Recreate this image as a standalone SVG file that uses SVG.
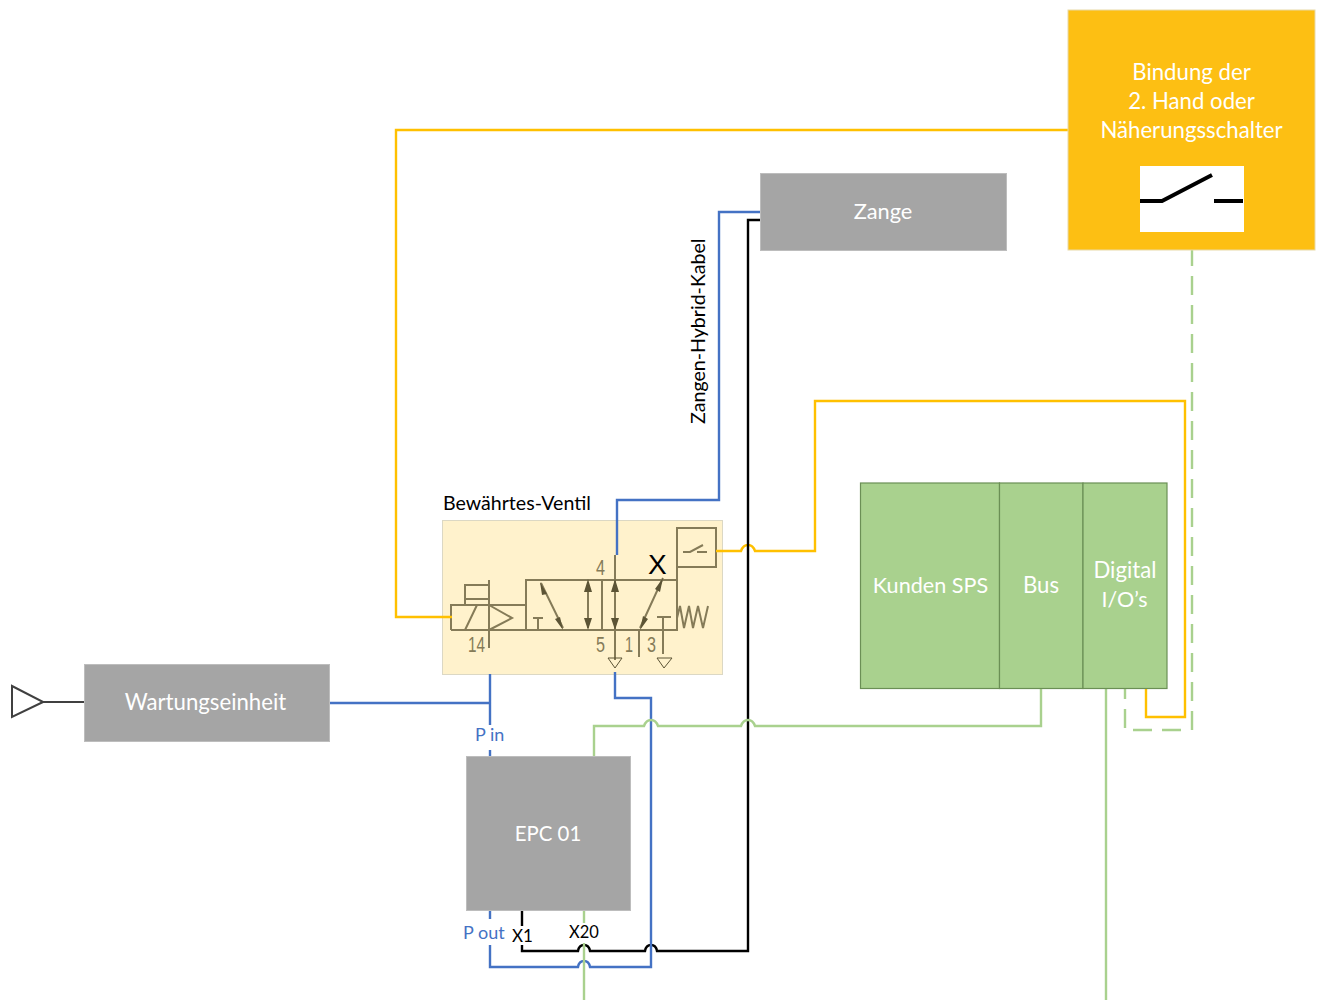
<svg xmlns="http://www.w3.org/2000/svg" width="1318" height="1000" viewBox="0 0 1318 1000">
<style>
text{font-family:Lato,"Open Sans","Liberation Sans",sans-serif}
.w{fill:#fff;font-size:22.200px;text-anchor:middle}
.k{fill:#000;font-size:19.600px}
.b{fill:#4472c4;font-size:18px}
.gray{fill:#a5a5a5;stroke:#bdbdbd;stroke-width:1}
.green{fill:#a9d18e;stroke:#6b8f55;stroke-width:1.2}
.c{fill:none;stroke-width:2.400;stroke-linejoin:miter}
.cb{stroke:#4472c4}.cy{stroke:#ffc000}.cg{stroke:#a9d18e}.ck{stroke:#000}
.v{fill:none;stroke:#857b58;stroke-width:2}
.vt{fill:#857b58;font-size:22px;font-family:"Liberation Sans",sans-serif}
.head{fill:#5c5435;stroke:none}
</style>
<g id="valve">
<rect x="442.500" y="520.500" width="280" height="154" fill="#fff2cc" stroke="#dcd8c4"/>
<text x="443" y="510" class="k">Bewährtes-Ventil</text>
<rect class="v" x="526" y="580" width="151" height="50"/>
<path class="v" d="M451 630V605H526M451 630H526M489 580V648M465 630L477 605M489 605L512 618L489 630M489 585H465V605M465 599H489M602 580V630M615 555V660M639 630V657M663 617V654M657 617H671M533 618H543M538 618V630M677 618L680 606L684 628L689 606L693 628L698 606L703 628L708 606M677 567V580"/>
<path class="v" stroke-width="1.500" d="M541 583L563 628M588 582V628M663 578L640 628"/>
<path class="head" d="M540 582l7 12-5 1zM563 630l-8-11 5-2zM588 579l4 13h-8zM588 630l-4-12h8zM615 579l4 13h-8zM615 630l-4-12h8zM663 578l-3 14-5-3zM640 630l3-14 5 3z"/>
<path fill="none" stroke="#5c5435" stroke-width="1" d="M608 658H622L615 668ZM657 658H672L664 668Z"/>
<rect class="v" x="677" y="528" width="39" height="39"/>
<path class="v" d="M683 552H690L703 545M697 552H707"/>
<text class="vt" x="596" y="575" textLength="9" lengthAdjust="spacingAndGlyphs">4</text>
<text class="vt" x="596" y="652" textLength="9" lengthAdjust="spacingAndGlyphs">5</text>
<text class="vt" x="625" y="652" textLength="8" lengthAdjust="spacingAndGlyphs">1</text>
<text class="vt" x="647" y="652" textLength="9" lengthAdjust="spacingAndGlyphs">3</text>
<text class="vt" x="468" y="652" textLength="17" lengthAdjust="spacingAndGlyphs">14</text>
<text x="648" y="574" font-size="28" fill="#000" style="font-family:'Liberation Sans',sans-serif">X</text>
</g>
<g id="connectors">
<path class="c cy" d="M1068 130H396V617H452"/>
<path class="c cy" d="M716 551H741Q743 545 748 545Q753 545 755 551H815V401H1185V717H1146V689"/>
<path class="c cb" d="M617 555V500H719V212H760"/>
<path class="c ck" d="M760 220H748V951H657Q656 945 651 945Q646 945 645 951H590Q589 945 584 945Q579 945 578 951H522V911"/>
<path class="c cb" d="M330 703H490V674M490 674V757"/>
<path class="c cb" d="M615 672V698H651V967H590Q589 961 584 961Q579 961 578 967H490V911"/>
<path class="c cg" d="M594 757V726H644Q646 720 651 720Q656 720 658 726H741Q743 720 748 720Q753 720 755 726H1041V689"/>
<path class="c cg" d="M584 911V1000"/>
<path class="c cg" d="M1106 689V1000"/>
<path class="c cg" stroke-dasharray="19 10" stroke-dashoffset="3" d="M1192 250V730"/>
<path class="c cg" stroke-dasharray="19 10" d="M1181 730H1133"/>
<path class="c cg" stroke-dasharray="19 10" d="M1125 728V689"/>
<path fill="none" stroke="#404040" stroke-width="2" d="M85 702H43L12 686V717L43 702"/>
</g>
<g id="bindung">
<rect x="1068" y="10" width="247" height="240" fill="#fdbf13" stroke="#e8d9a8"/>
<text class="w" x="1191.500" y="80">Bindung der</text>
<text class="w" x="1191.500" y="109">2. Hand oder</text>
<text class="w" x="1191.500" y="138">Näherungsschalter</text>
<rect x="1140" y="166" width="104" height="66" fill="#fff"/>
<path fill="none" stroke="#000" stroke-width="4" d="M1140 201H1162L1212 175M1214 201H1243"/>
</g>
<g id="zange">
<rect class="gray" x="760.500" y="173.500" width="246" height="77"/>
<text class="w" x="883" y="219" style="font-size:21.800px">Zange</text>
</g>
<g id="hybrid-label">
<text class="k" transform="translate(705 424) rotate(-90)">Zangen-Hybrid-Kabel</text>
</g>
<g id="sps">
<rect class="green" x="860.500" y="483" width="139" height="205.500"/>
<text class="w" x="930.500" y="593" style="font-size:21.600px">Kunden SPS</text>
</g>
<g id="bus">
<rect class="green" x="999.500" y="483" width="83.500" height="205.500"/>
<text class="w" x="1041" y="593">Bus</text>
</g>
<g id="dio">
<rect class="green" x="1083" y="483" width="84" height="205.500"/>
<text class="w" x="1125" y="578">Digital</text>
<text class="w" x="1124.500" y="607" style="font-size:21.500px">I/O’s</text>
</g>
<g id="wartung">
<rect class="gray" x="84.500" y="664.500" width="245" height="77"/>
<text class="w" x="205.500" y="710">Wartungseinheit</text>
</g>
<g id="epc">
<rect class="gray" x="466.500" y="756.500" width="164" height="154"/>
<text class="w" x="548" y="841" style="font-size:20.400px">EPC 01</text>
</g>
<g id="labels">
<rect x="470" y="725" width="40" height="25" fill="#fff"/>
<rect x="462" y="919" width="46" height="26" fill="#fff"/>
<rect x="511" y="926" width="23" height="19" fill="#fff"/>
<rect x="568" y="923" width="32" height="20" fill="#fff"/>
<text class="b" x="475" y="741">P in</text>
<text class="b" x="463" y="939">P out</text>
<text x="512" y="942" font-size="17" fill="#000">X1</text>
<text x="569" y="938" font-size="16.500" fill="#000">X20</text>
</g>
</svg>
